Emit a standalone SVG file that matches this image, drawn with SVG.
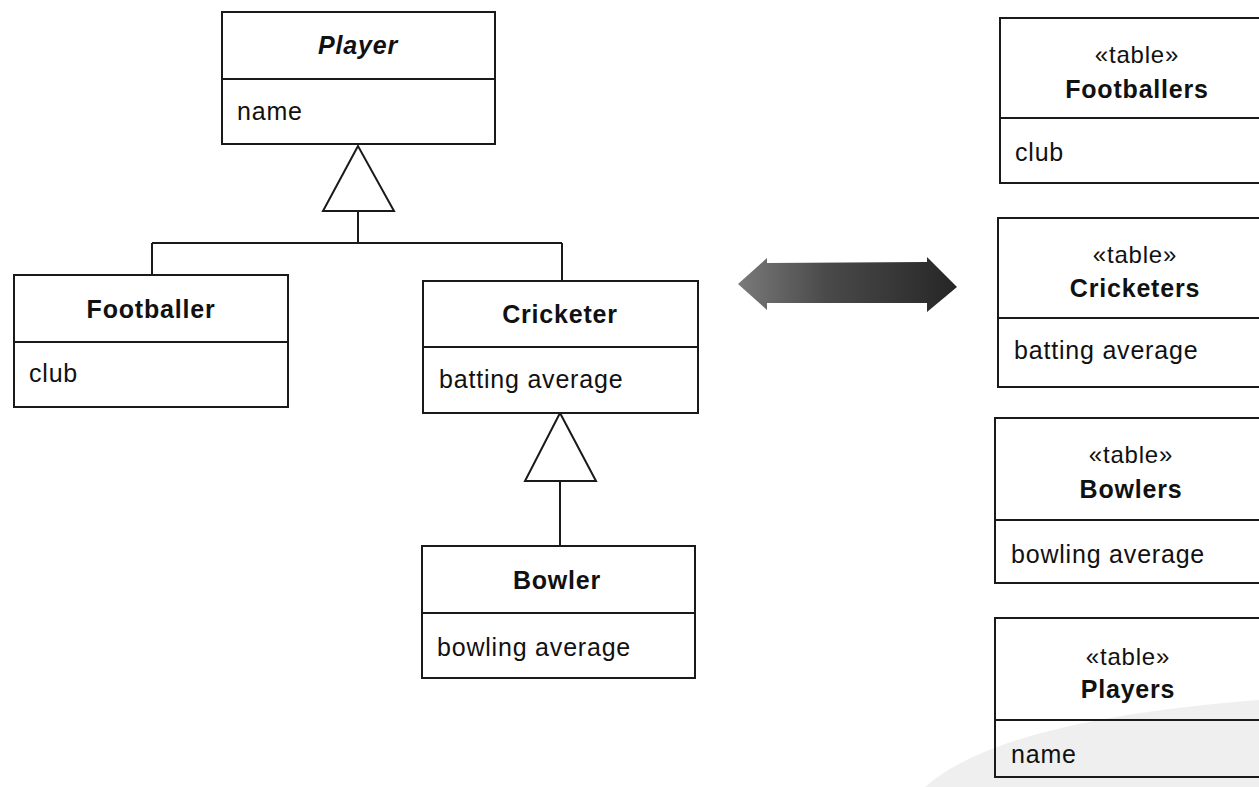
<svg xmlns="http://www.w3.org/2000/svg" width="1259" height="787" viewBox="0 0 1259 787">
<defs>
<style>
.box{fill:#fff;stroke:#1a1a1a;stroke-width:2}
.ln{fill:none;stroke:#1a1a1a;stroke-width:2}
.tri{fill:#fff;stroke:#1a1a1a;stroke-width:2}
text{font-family:"Liberation Sans",Arial,Helvetica,sans-serif;font-size:25px;fill:#111;letter-spacing:0.8px}
.t{font-weight:bold;text-anchor:middle}
.st{text-anchor:middle;font-size:24px}
</style>
<linearGradient id="ag" x1="0" y1="0" x2="1" y2="0">
<stop offset="0" stop-color="#7a7a7a"/>
<stop offset="0.4" stop-color="#4a4a4a"/>
<stop offset="1" stop-color="#262626"/>
</linearGradient>
</defs>
<rect width="1259" height="787" fill="#fff"/>
<path d="M925 787 Q1000 720 1259 700 L1259 787 Z" fill="#efefef"/>

<g id="connectors">
<polygon class="tri" points="358,146 323,211 394,211"/>
<path class="ln" d="M358 211 V243 M152 243 H562 M152 243 V275 M562 243 V281"/>
<polygon class="tri" points="560,413 525,481 596,481"/>
<path class="ln" d="M560 481 V546"/>
<polygon points="738,284 767,258 767,263 927,262 927,257 957,287 927,312 927,303 767,303 767,310" fill="url(#ag)"/>
</g>

<g id="player">
<rect class="box" x="222" y="12" width="273" height="132"/>
<path class="ln" d="M222 79 H495"/>
<text class="t" x="358" y="54" font-style="italic">Player</text>
<text x="237" y="120">name</text>
</g>

<g id="footballer">
<rect class="box" x="14" y="275" width="274" height="132"/>
<path class="ln" d="M14 342 H288"/>
<text class="t" x="151" y="318">Footballer</text>
<text x="29" y="382">club</text>
</g>

<g id="cricketer">
<rect class="box" x="423" y="281" width="275" height="132"/>
<path class="ln" d="M423 347 H698"/>
<text class="t" x="560" y="323">Cricketer</text>
<text x="439" y="388">batting average</text>
</g>

<g id="bowler">
<rect class="box" x="422" y="546" width="273" height="132"/>
<path class="ln" d="M422 613 H695"/>
<text class="t" x="557" y="589">Bowler</text>
<text x="437" y="656">bowling average</text>
</g>

<g id="t-footballers">
<rect class="box" x="1000" y="18" width="280" height="165"/>
<path class="ln" d="M1000 118 H1259"/>
<text class="st" x="1137" y="63">«table»</text>
<text class="t" x="1137" y="98">Footballers</text>
<text x="1015" y="161">club</text>
</g>

<g id="t-cricketers">
<rect class="box" x="998" y="218" width="280" height="169"/>
<path class="ln" d="M998 318 H1259"/>
<text class="st" x="1135" y="263">«table»</text>
<text class="t" x="1135" y="297">Cricketers</text>
<text x="1014" y="359">batting average</text>
</g>

<g id="t-bowlers">
<rect class="box" x="995" y="418" width="280" height="165"/>
<path class="ln" d="M995 520 H1259"/>
<text class="st" x="1131" y="463">«table»</text>
<text class="t" x="1131" y="498">Bowlers</text>
<text x="1011" y="563">bowling average</text>
</g>

<g id="t-players">
<path class="ln" d="M1259 618 H995 V777 H1259"/>
<path class="ln" d="M995 720 H1259"/>
<text class="st" x="1128" y="665">«table»</text>
<text class="t" x="1128" y="698">Players</text>
<text x="1011" y="763">name</text>
</g>
</svg>
